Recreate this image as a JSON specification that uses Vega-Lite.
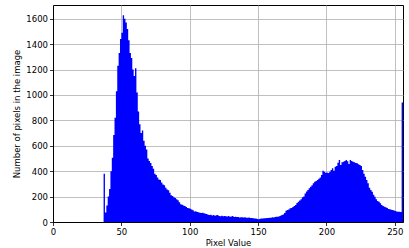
{
  "$schema": "https://vega.github.io/schema/vega-lite/v6.json",
  "width": 350,
  "height": 217,
  "autosize": "none",
  "padding": {"left": 53, "top": 5, "right": 6, "bottom": 26},
  "background": "white",
  "config": {
    "view": {"stroke": "black", "strokeWidth": 1},
    "axis": {
      "labelFont": "DejaVu Sans", "labelFontSize": 8.5, "labelColor": "#000000", "labelFlush": false,
      "titleFont": "DejaVu Sans", "titleFontSize": 8.5, "titleFontWeight": "normal", "titleColor": "#000000",
      "tickColor": "#000000", "tickSize": 3.5, "tickWidth": 0.8,
      "domainColor": "#000000", "domainWidth": 1,
      "gridColor": "#b0b0b0", "gridWidth": 0.8, "gridOpacity": 1,
      "labelPadding": 2, "zindex": 1
    }
  },
  "data": {"values": [
    {"v":0,"n":0},{"v":1,"n":0},{"v":2,"n":0},{"v":3,"n":0},{"v":4,"n":0},{"v":5,"n":0},{"v":6,"n":0},{"v":7,"n":0},{"v":8,"n":0},{"v":9,"n":0},
    {"v":10,"n":0},{"v":11,"n":0},{"v":12,"n":0},{"v":13,"n":0},{"v":14,"n":0},{"v":15,"n":0},{"v":16,"n":0},{"v":17,"n":0},{"v":18,"n":0},{"v":19,"n":0},
    {"v":20,"n":0},{"v":21,"n":0},{"v":22,"n":0},{"v":23,"n":0},{"v":24,"n":0},{"v":25,"n":0},{"v":26,"n":0},{"v":27,"n":0},{"v":28,"n":0},{"v":29,"n":0},
    {"v":30,"n":0},{"v":31,"n":0},{"v":32,"n":0},{"v":33,"n":0},{"v":34,"n":0},{"v":35,"n":0},{"v":36,"n":0},{"v":37,"n":380},{"v":38,"n":75},{"v":39,"n":130},
    {"v":40,"n":200},{"v":41,"n":260},{"v":42,"n":400},{"v":43,"n":505},{"v":44,"n":685},{"v":45,"n":820},{"v":46,"n":1030},{"v":47,"n":1230},{"v":48,"n":1330},{"v":49,"n":1440},
    {"v":50,"n":1490},{"v":51,"n":1627},{"v":52,"n":1600},{"v":53,"n":1570},{"v":54,"n":1520},{"v":55,"n":1430},{"v":56,"n":1330},{"v":57,"n":1290},{"v":58,"n":1200},{"v":59,"n":1150},
    {"v":60,"n":1210},{"v":61,"n":1020},{"v":62,"n":870},{"v":63,"n":770},{"v":64,"n":700},{"v":65,"n":720},{"v":66,"n":640},{"v":67,"n":600},{"v":68,"n":570},{"v":69,"n":500},
    {"v":70,"n":480},{"v":71,"n":465},{"v":72,"n":440},{"v":73,"n":420},{"v":74,"n":380},{"v":75,"n":370},{"v":76,"n":350},{"v":77,"n":335},{"v":78,"n":330},{"v":79,"n":310},
    {"v":80,"n":295},{"v":81,"n":290},{"v":82,"n":270},{"v":83,"n":255},{"v":84,"n":250},{"v":85,"n":230},{"v":86,"n":210},{"v":87,"n":205},{"v":88,"n":195},{"v":89,"n":188},
    {"v":90,"n":180},{"v":91,"n":172},{"v":92,"n":155},{"v":93,"n":140},{"v":94,"n":135},{"v":95,"n":130},{"v":96,"n":125},{"v":97,"n":118},{"v":98,"n":110},{"v":99,"n":108},
    {"v":100,"n":105},{"v":101,"n":98},{"v":102,"n":92},{"v":103,"n":82},{"v":104,"n":85},{"v":105,"n":78},{"v":106,"n":76},{"v":107,"n":73},{"v":108,"n":70},{"v":109,"n":72},
    {"v":110,"n":68},{"v":111,"n":64},{"v":112,"n":62},{"v":113,"n":58},{"v":114,"n":56},{"v":115,"n":57},{"v":116,"n":52},{"v":117,"n":55},{"v":118,"n":50},{"v":119,"n":53},
    {"v":120,"n":55},{"v":121,"n":48},{"v":122,"n":46},{"v":123,"n":50},{"v":124,"n":45},{"v":125,"n":47},{"v":126,"n":46},{"v":127,"n":44},{"v":128,"n":48},{"v":129,"n":42},
    {"v":130,"n":44},{"v":131,"n":47},{"v":132,"n":40},{"v":133,"n":42},{"v":134,"n":39},{"v":135,"n":40},{"v":136,"n":36},{"v":137,"n":38},{"v":138,"n":37},{"v":139,"n":35},
    {"v":140,"n":37},{"v":141,"n":34},{"v":142,"n":33},{"v":143,"n":35},{"v":144,"n":31},{"v":145,"n":32},{"v":146,"n":30},{"v":147,"n":28},{"v":148,"n":27},{"v":149,"n":24},
    {"v":150,"n":22},{"v":151,"n":26},{"v":152,"n":28},{"v":153,"n":27},{"v":154,"n":30},{"v":155,"n":29},{"v":156,"n":32},{"v":157,"n":31},{"v":158,"n":34},{"v":159,"n":33},
    {"v":160,"n":37},{"v":161,"n":36},{"v":162,"n":39},{"v":163,"n":42},{"v":164,"n":41},{"v":165,"n":45},{"v":166,"n":50},{"v":167,"n":55},{"v":168,"n":60},{"v":169,"n":70},
    {"v":170,"n":88},{"v":171,"n":94},{"v":172,"n":98},{"v":173,"n":108},{"v":174,"n":110},{"v":175,"n":118},{"v":176,"n":125},{"v":177,"n":134},{"v":178,"n":150},{"v":179,"n":160},
    {"v":180,"n":170},{"v":181,"n":180},{"v":182,"n":195},{"v":183,"n":200},{"v":184,"n":225},{"v":185,"n":240},{"v":186,"n":252},{"v":187,"n":265},{"v":188,"n":278},{"v":189,"n":290},
    {"v":190,"n":305},{"v":191,"n":317},{"v":192,"n":322},{"v":193,"n":331},{"v":194,"n":340},{"v":195,"n":350},{"v":196,"n":370},{"v":197,"n":404},{"v":198,"n":395},{"v":199,"n":388},
    {"v":200,"n":390},{"v":201,"n":386},{"v":202,"n":396},{"v":203,"n":410},{"v":204,"n":423},{"v":205,"n":404},{"v":206,"n":435},{"v":207,"n":440},{"v":208,"n":467},{"v":209,"n":488},
    {"v":210,"n":449},{"v":211,"n":470},{"v":212,"n":475},{"v":213,"n":480},{"v":214,"n":488},{"v":215,"n":478},{"v":216,"n":457},{"v":217,"n":488},{"v":218,"n":480},{"v":219,"n":475},
    {"v":220,"n":470},{"v":221,"n":465},{"v":222,"n":462},{"v":223,"n":455},{"v":224,"n":449},{"v":225,"n":440},{"v":226,"n":409},{"v":227,"n":380},{"v":228,"n":357},{"v":229,"n":331},
    {"v":230,"n":305},{"v":231,"n":270},{"v":232,"n":252},{"v":233,"n":239},{"v":234,"n":215},{"v":235,"n":199},{"v":236,"n":180},{"v":237,"n":165},{"v":238,"n":160},{"v":239,"n":147},
    {"v":240,"n":134},{"v":241,"n":125},{"v":242,"n":121},{"v":243,"n":116},{"v":244,"n":110},{"v":245,"n":103},{"v":246,"n":100},{"v":247,"n":96},{"v":248,"n":94},{"v":249,"n":90},
    {"v":250,"n":87},{"v":251,"n":82},{"v":252,"n":81},{"v":253,"n":80},{"v":254,"n":78},{"v":255,"n":940}
  ]},
  "transform": [
    {"bin": {"step": 1, "extent": [0, 256], "nice": false}, "field": "v", "as": ["v0", "v1"]}
  ],
  "mark": {"type": "area", "color": "#0000ff", "opacity": 1, "interpolate": "step-before", "clip": true},
  "encoding": {
    "x": {
      "field": "v1", "type": "quantitative",
      "scale": {"domain": [0, 256], "nice": false, "zero": false},
      "axis": {"title": "Pixel Value", "values": [0, 50, 100, 150, 200, 250], "format": "d", "grid": true, "titlePadding": 2}
    },
    "y": {
      "field": "n", "type": "quantitative",
      "scale": {"domain": [0, 1708], "nice": false},
      "axis": {"title": "Number of pixels in the image", "values": [0, 200, 400, 600, 800, 1000, 1200, 1400, 1600], "format": "d", "grid": true, "titlePadding": 4}
    }
  }
}
